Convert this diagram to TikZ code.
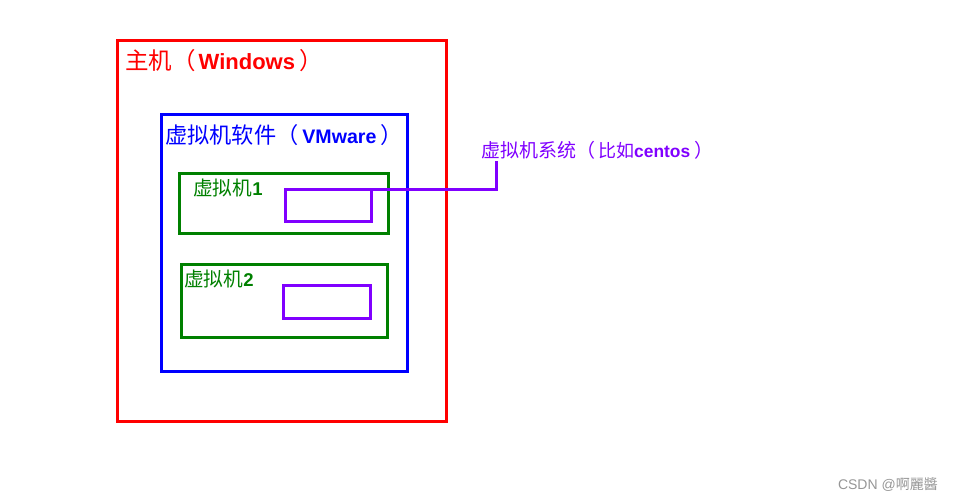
\documentclass[tikz,border=0pt]{standalone}
\usepackage{fontspec}
\setmainfont{Liberation Sans}
\newfontfamily\cjk{Noto Sans CJK SC}
\usepackage{tikz}
\usetikzlibrary{arrows.meta}
\tikzset{
  every picture/.style={line join=miter, line cap=rect},
  box/.style={draw, line width=3pt, inner sep=0pt, outer sep=0pt, anchor=north west},
  lbl/.style={inner sep=0pt, anchor=west},
}
\definecolor{hostred}{RGB}{255,0,0}
\definecolor{vmblue}{RGB}{0,0,255}
\definecolor{vmgreen}{RGB}{0,128,0}
\definecolor{ospurple}{RGB}{128,0,255}
\definecolor{markgray}{RGB}{150,150,150}
% chinese text at its own size
\newcommand{\zh}[2]{{\cjk\fontsize{#1}{#1}\selectfont #2}}

\begin{document}
\begin{tikzpicture}[x=1pt,y=-1pt]
\useasboundingbox (0,0) rectangle (953,501);
% host
\node[box, hostred, minimum width=329pt, minimum height=381pt] (host) at (117,40) {};
\node[lbl, text=hostred, font=\fontsize{22}{24}\selectfont] (hosttxt) at (125,61)
  {\zh{23.5}{主机（}\hspace{3pt}\textbf{Windows}\hspace{4pt}\zh{23.5}{）}};
% vmware
\node[box, vmblue, minimum width=246pt, minimum height=257pt] (soft) at (161,114) {};
\node[lbl, text=vmblue, font=\fontsize{19.6}{22}\selectfont] (softtxt) at (165,135)
  {\zh{22.2}{虚拟机软件（}\hspace{4pt}\textbf{VMware}\hspace{4pt}\zh{22.2}{）}};
% vm 1
\node[box, vmgreen, minimum width=209pt, minimum height=60pt] (vmone) at (179,173) {};
\node[lbl, text=vmgreen, font=\fontsize{18.5}{20}\selectfont] (vmonetxt) at (193,188)
  {\zh{19.7}{虚拟机}\textbf{1}};
\node[box, ospurple, minimum width=86pt, minimum height=32pt] (sysone) at (285,189) {};
% vm 2
\node[box, vmgreen, minimum width=206pt, minimum height=73pt] (vmtwo) at (181,264) {};
\node[lbl, text=vmgreen, font=\fontsize{18.5}{20}\selectfont] (vmtwotxt) at (184,279)
  {\zh{19.7}{虚拟机}\textbf{2}};
\node[box, ospurple, minimum width=87pt, minimum height=33pt] (systwo) at (283,285) {};
% guest os label
\node[lbl, text=ospurple, font=\fontsize{17.4}{20}\selectfont] (systxt) at (481,150)
  {\zh{19}{虚拟机系统（}\hspace{3pt}\zh{18}{比如}\textbf{centos}\hspace{4pt}\zh{19}{）}};
\coordinate (bend) at (496,189);
\draw[ospurple, line width=3pt] (sysone.north east) -- (bend) -- (bend |- 0,162);
% watermark
\node[inner sep=0pt, anchor=east, text=markgray, font=\fontsize{14}{16}\selectfont] (mark) at (938,485)
  {CSDN @\zh{14}{啊麗醬}};
\end{tikzpicture}
\end{document}
